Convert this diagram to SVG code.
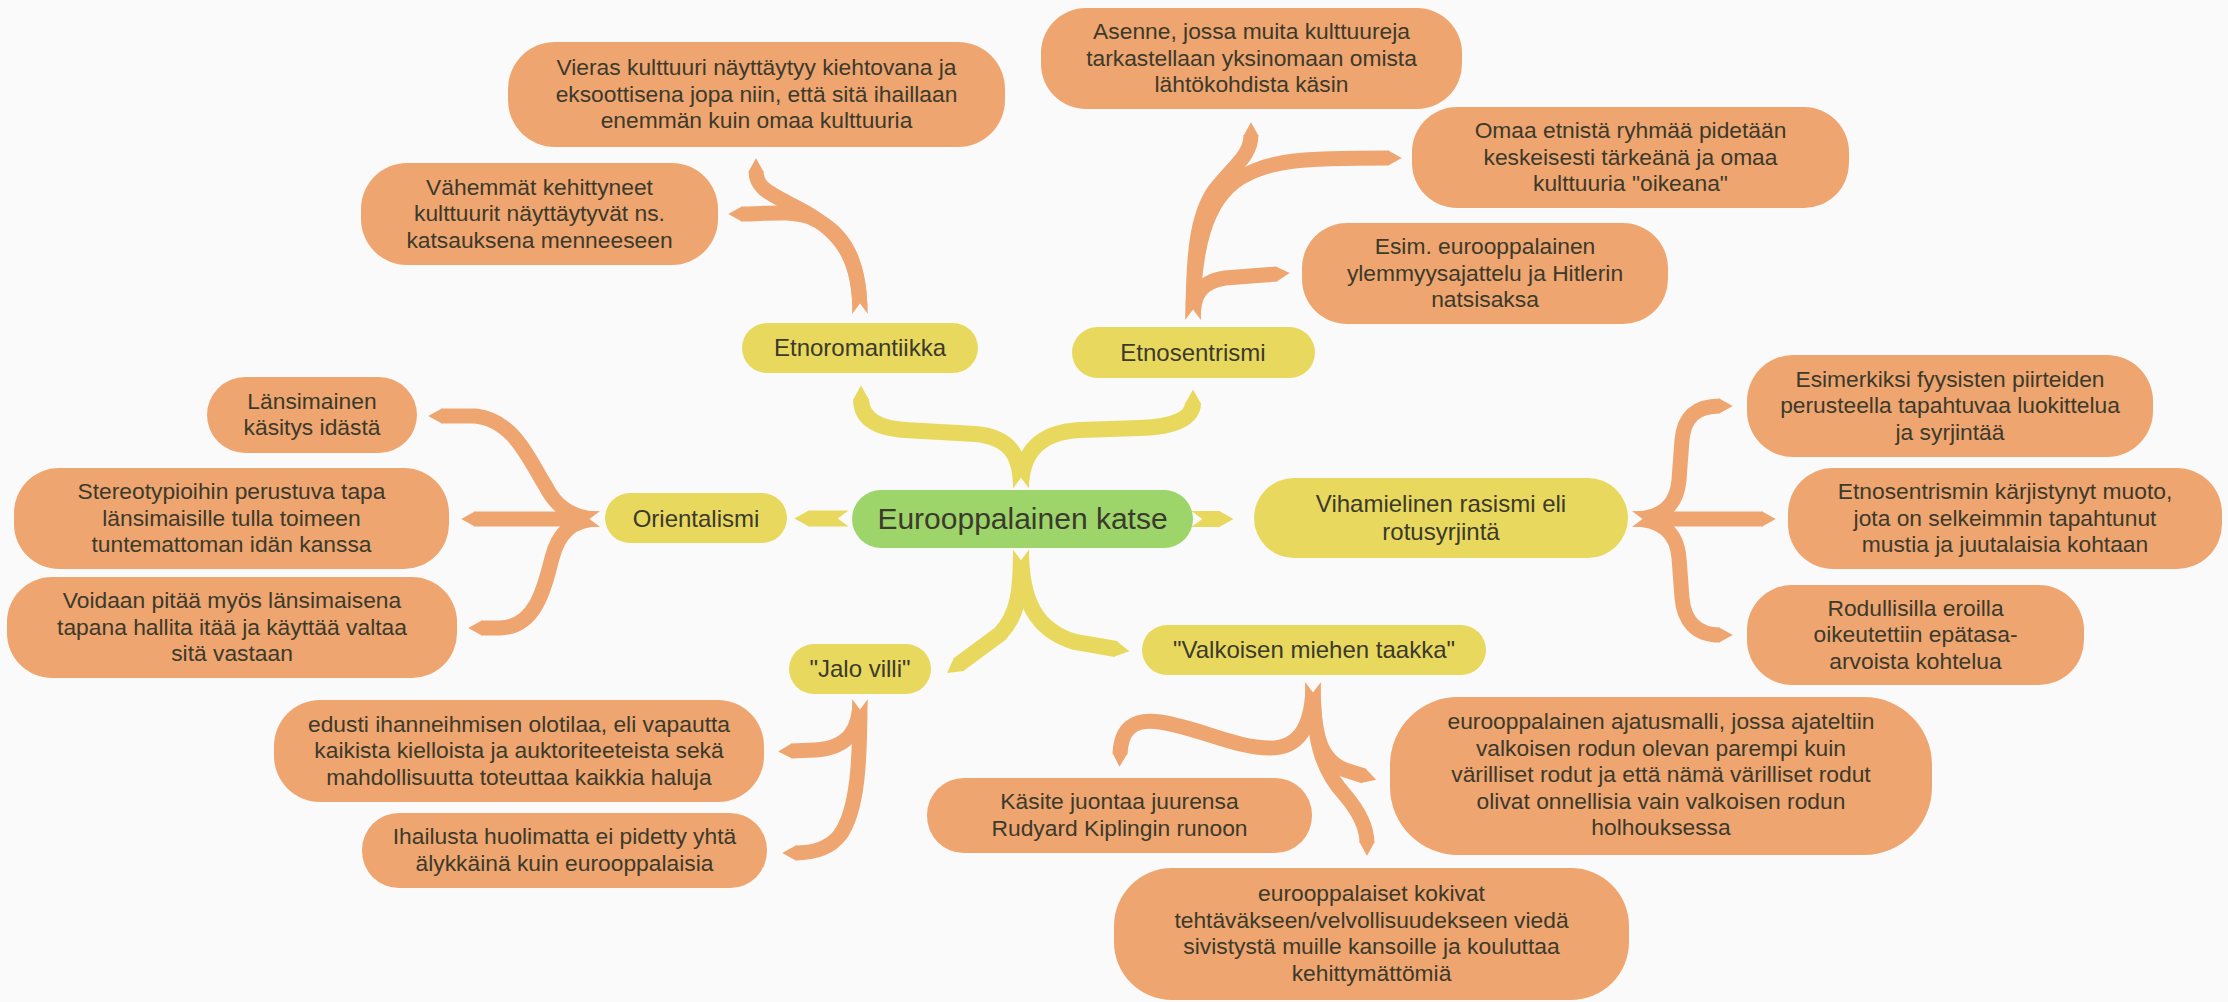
<svg xmlns="http://www.w3.org/2000/svg" width="2228" height="1002" viewBox="0 0 2228 1002">
<defs>
<style>
.o{fill:#efa56f}
.y{fill:#e9d85e}
.g{fill:#9dd56b}
text{font-family:"Liberation Sans",Arial,sans-serif;fill:#3b3a2c;text-anchor:middle}
.t{font-size:22.8px}
.ty{font-size:24px}
.tc{font-size:30px}
.cy{fill:none;stroke:#e9d85e;stroke-width:16;marker-start:url(#notch);marker-end:url(#tipY)}
.co{fill:none;stroke:#efa56f;stroke-width:15;marker-start:url(#notch);marker-end:url(#tipO)}
</style>
<marker id="tipY" viewBox="0 -1 1 2" markerUnits="strokeWidth" markerWidth="1" markerHeight="2" refX="0" refY="0" orient="auto" overflow="visible"><path d="M-0.05,-0.5 L0.85,0 L-0.05,0.5Z" fill="#e9d85e"/></marker>
<marker id="tipO" viewBox="0 -1 1 2" markerUnits="strokeWidth" markerWidth="1" markerHeight="2" refX="0" refY="0" orient="auto" overflow="visible"><path d="M-0.05,-0.5 L0.85,0 L-0.05,0.5Z" fill="#efa56f"/></marker>
<marker id="notch" viewBox="0 -1 1 2" markerUnits="strokeWidth" markerWidth="1" markerHeight="2" refX="0" refY="0" orient="auto" overflow="visible"><path d="M-0.1,-0.6 L0.7,0 L-0.1,0.6Z" fill="#fafafa"/></marker>
</defs>
<rect width="2228" height="1002" fill="#fafafa"/>
<g id="connectors">
<path class="cy" d="M849,518.5 L808,518.5"/>
<path class="cy" d="M1191,519 L1220,519"/>
<path class="cy" d="M1021,489 C1021,455 1010,437 975,434 L905,430 C876,428 861,418 861,399"/>
<path class="cy" d="M1021,489 C1021,452 1040,432 1080,430 L1140,428 C1175,427 1193,418 1193,403"/>
<path class="cy" d="M1021,549 C1021,592 1018,615 1000,634 L958,665"/>
<path class="cy" d="M1021,549 C1021,600 1035,630 1075,642 L1116,649"/>
<path class="co" d="M860,314 C860,262 845,235 805,212 C772,194 756,190 756,171"/>
<path class="co" d="M860,314 C860,262 845,232 810,217 C790,210 765,214 741,214"/>
<path class="co" d="M1193,320 C1193,255 1197,215 1215,190 C1235,165 1251,155 1251,135"/>
<path class="co" d="M1193,320 C1193,250 1205,200 1240,178 C1270,160 1300,158 1389,158"/>
<path class="co" d="M1193,320 C1193,295 1200,282 1225,278 L1277,274"/>
<path class="co" d="M600,519 C570,519 555,505 545,485 C530,462 515,420 475,416 L441,416"/>
<path class="co" d="M600,519 L474,519"/>
<path class="co" d="M600,519 C570,519 558,535 552,558 C544,590 535,627 500,628 L481,628"/>
<path class="co" d="M1632,519 C1662,519 1677,505 1679,480 L1682,440 C1684,418 1695,406 1720,406"/>
<path class="co" d="M1632,519 L1763,519"/>
<path class="co" d="M1632,519 C1662,519 1677,533 1679,558 L1682,598 C1684,620 1695,635 1720,635"/>
<path class="co" d="M860,699 C860,728 850,748 815,750 L791,751"/>
<path class="co" d="M860,699 C860,760 858,810 840,835 C830,848 815,853 795,853"/>
<path class="co" d="M1313,682 C1313,725 1300,748 1270,748 C1235,748 1200,728 1160,722 C1132,718 1121,730 1120,754"/>
<path class="co" d="M1313,682 C1313,735 1320,760 1345,770 L1364,776"/>
<path class="co" d="M1313,682 C1313,740 1322,770 1345,795 C1362,815 1367,830 1367,843"/>
</g>
<g id="central"><rect class="g" x="852" y="490" width="341" height="58" rx="29"/><text class="tc" x="1022.5" y="529">Eurooppalainen katse</text></g>
<g id="orientalismi"><rect class="y" x="605" y="493" width="182" height="50" rx="25"/><text class="ty" x="696" y="526.5">Orientalismi</text></g>
<g id="etnoromantiikka"><rect class="y" x="742" y="323" width="236" height="50" rx="25"/><text class="ty" x="860" y="356">Etnoromantiikka</text></g>
<g id="etnosentrismi"><rect class="y" x="1072" y="327" width="243" height="51" rx="25.5"/><text class="ty" x="1193" y="360.5">Etnosentrismi</text></g>
<g id="vihamielinen"><rect class="y" x="1254" y="478" width="374" height="80" rx="40"/><text class="ty" x="1441"><tspan x="1441" y="512">Vihamielinen rasismi eli</tspan><tspan x="1441" y="540">rotusyrjintä</tspan></text></g>
<g id="jalovilli"><rect class="y" x="789" y="644" width="142" height="50" rx="25"/><text class="ty" x="860" y="677">"Jalo villi"</text></g>
<g id="valkoisen"><rect class="y" x="1142" y="625" width="344" height="50" rx="25"/><text class="ty" x="1314" y="658">"Valkoisen miehen taakka"</text></g>
<g id="vieras"><rect class="o" x="508" y="42" width="497" height="105" rx="47"/><text class="t"><tspan x="756.5" y="75">Vieras kulttuuri näyttäytyy kiehtovana ja</tspan><tspan x="756.5" y="101.5">eksoottisena jopa niin, että sitä ihaillaan</tspan><tspan x="756.5" y="128">enemmän kuin omaa kulttuuria</tspan></text></g>
<g id="vahemmat"><rect class="o" x="361" y="163" width="357" height="102" rx="46"/><text class="t"><tspan x="539.5" y="194.5">Vähemmät kehittyneet</tspan><tspan x="539.5" y="221">kulttuurit näyttäytyvät ns.</tspan><tspan x="539.5" y="247.5">katsauksena menneeseen</tspan></text></g>
<g id="asenne"><rect class="o" x="1041" y="8" width="421" height="101" rx="45"/><text class="t"><tspan x="1251.5" y="39">Asenne, jossa muita kulttuureja</tspan><tspan x="1251.5" y="65.5">tarkastellaan yksinomaan omista</tspan><tspan x="1251.5" y="92">lähtökohdista käsin</tspan></text></g>
<g id="omaa"><rect class="o" x="1412" y="107" width="437" height="101" rx="45"/><text class="t"><tspan x="1630.5" y="138">Omaa etnistä ryhmää pidetään</tspan><tspan x="1630.5" y="164.5">keskeisesti tärkeänä ja omaa</tspan><tspan x="1630.5" y="191">kulttuuria "oikeana"</tspan></text></g>
<g id="esim"><rect class="o" x="1302" y="223" width="366" height="101" rx="45"/><text class="t"><tspan x="1485" y="254">Esim. eurooppalainen</tspan><tspan x="1485" y="280.5">ylemmyysajattelu ja Hitlerin</tspan><tspan x="1485" y="307">natsisaksa</tspan></text></g>
<g id="lansimainen"><rect class="o" x="207" y="377" width="210" height="76" rx="38"/><text class="t"><tspan x="312" y="408.75">Länsimainen</tspan><tspan x="312" y="435.25">käsitys idästä</tspan></text></g>
<g id="stereotypioihin"><rect class="o" x="14" y="468" width="435" height="101" rx="45"/><text class="t"><tspan x="231.5" y="499">Stereotypioihin perustuva tapa</tspan><tspan x="231.5" y="525.5">länsimaisille tulla toimeen</tspan><tspan x="231.5" y="552">tuntemattoman idän kanssa</tspan></text></g>
<g id="voidaan"><rect class="o" x="7" y="577" width="450" height="101" rx="45"/><text class="t"><tspan x="232" y="608">Voidaan pitää myös länsimaisena</tspan><tspan x="232" y="634.5">tapana hallita itää ja käyttää valtaa</tspan><tspan x="232" y="661">sitä vastaan</tspan></text></g>
<g id="esimerkiksi"><rect class="o" x="1747" y="355" width="406" height="102" rx="46"/><text class="t"><tspan x="1950" y="386.5">Esimerkiksi fyysisten piirteiden</tspan><tspan x="1950" y="413">perusteella tapahtuvaa luokittelua</tspan><tspan x="1950" y="439.5">ja syrjintää</tspan></text></g>
<g id="karjistynyt"><rect class="o" x="1788" y="468" width="434" height="101" rx="45"/><text class="t"><tspan x="2005" y="499">Etnosentrismin kärjistynyt muoto,</tspan><tspan x="2005" y="525.5">jota on selkeimmin tapahtunut</tspan><tspan x="2005" y="552">mustia ja juutalaisia kohtaan</tspan></text></g>
<g id="rodullisilla"><rect class="o" x="1747" y="585" width="337" height="100" rx="45"/><text class="t"><tspan x="1915.5" y="615.5">Rodullisilla eroilla</tspan><tspan x="1915.5" y="642">oikeutettiin epätasa-</tspan><tspan x="1915.5" y="668.5">arvoista kohtelua</tspan></text></g>
<g id="edusti"><rect class="o" x="274" y="700" width="490" height="102" rx="46"/><text class="t"><tspan x="519" y="731.5">edusti ihanneihmisen olotilaa, eli vapautta</tspan><tspan x="519" y="758">kaikista kielloista ja auktoriteeteista sekä</tspan><tspan x="519" y="784.5">mahdollisuutta toteuttaa kaikkia haluja</tspan></text></g>
<g id="ihailusta"><rect class="o" x="362" y="813" width="405" height="75" rx="37"/><text class="t"><tspan x="564.5" y="844.25">Ihailusta huolimatta ei pidetty yhtä</tspan><tspan x="564.5" y="870.75">älykkäinä kuin eurooppalaisia</tspan></text></g>
<g id="kasite"><rect class="o" x="927" y="778" width="385" height="75" rx="37"/><text class="t"><tspan x="1119.5" y="809.25">Käsite juontaa juurensa</tspan><tspan x="1119.5" y="835.75">Rudyard Kiplingin runoon</tspan></text></g>
<g id="ajatusmalli"><rect class="o" x="1390" y="697" width="542" height="158" rx="68"/><text class="t"><tspan x="1661" y="729">eurooppalainen ajatusmalli, jossa ajateltiin</tspan><tspan x="1661" y="755.5">valkoisen rodun olevan parempi kuin</tspan><tspan x="1661" y="782">värilliset rodut ja että nämä värilliset rodut</tspan><tspan x="1661" y="808.5">olivat onnellisia vain valkoisen rodun</tspan><tspan x="1661" y="835">holhouksessa</tspan></text></g>
<g id="kokivat"><rect class="o" x="1114" y="868" width="515" height="132" rx="58"/><text class="t"><tspan x="1371.5" y="901.25">eurooppalaiset kokivat</tspan><tspan x="1371.5" y="927.75">tehtäväkseen/velvollisuudekseen viedä</tspan><tspan x="1371.5" y="954.25">sivistystä muille kansoille ja kouluttaa</tspan><tspan x="1371.5" y="980.75">kehittymättömiä</tspan></text></g>
</svg>
